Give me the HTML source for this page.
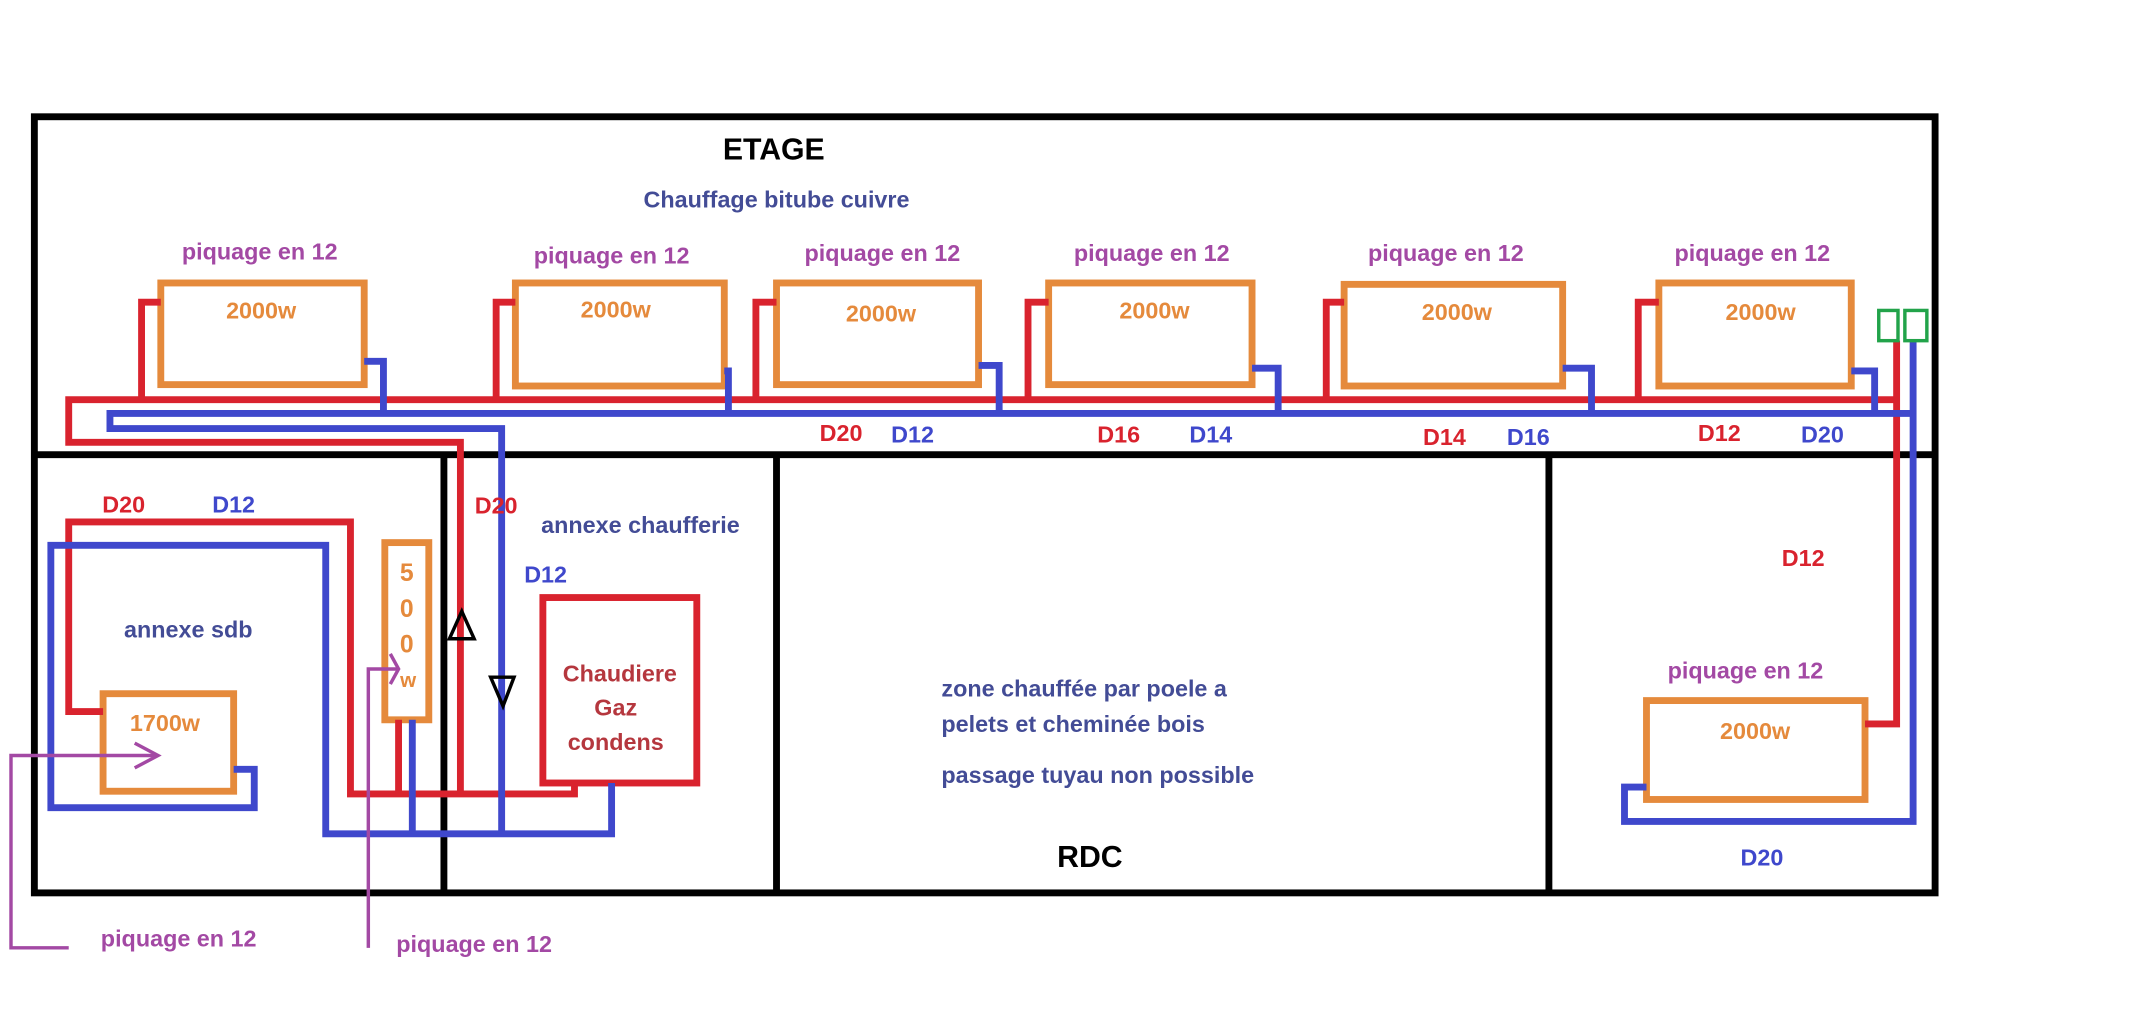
<!DOCTYPE html>
<html><head><meta charset="utf-8"><style>
html,body{margin:0;padding:0;background:#fff;}
svg{display:block;}
text{font-family:"Liberation Sans",sans-serif;font-weight:bold;font-size:17px;text-anchor:middle;}
.p{fill:#a349a4;}.o{fill:#e58a3c;}.r{fill:#d9232e;}.b{fill:#3f48cc;}.n{fill:#434c96;}.dr{fill:#b5373e;}
</style></head><body>
<svg width="2155" height="1033" viewBox="0 0 1568 752" preserveAspectRatio="none" xmlns="http://www.w3.org/2000/svg">
<rect width="1568" height="752" fill="#fff"/>
<g fill="none" stroke="#000" stroke-width="5">
<rect x="25" y="85" width="1383" height="565"/>
<line x1="25" y1="331" x2="1408" y2="331"/>
<line x1="323" y1="331" x2="323" y2="650"/>
<line x1="565" y1="331" x2="565" y2="650"/>
<line x1="1127" y1="331" x2="1127" y2="650"/>
</g>
<g fill="none" stroke="#e58a3c" stroke-width="5">
<rect x="117" y="206" width="148" height="74"/>
<rect x="375" y="206" width="152" height="75"/>
<rect x="565" y="206" width="147" height="74"/>
<rect x="763" y="206" width="148" height="74"/>
<rect x="978" y="207" width="159" height="74"/>
<rect x="1207" y="206" width="140" height="75"/>
<rect x="1198" y="510" width="159" height="72"/>
<rect x="75" y="505" width="95" height="71"/>
<rect x="280" y="395" width="32" height="129"/>
</g>
<g fill="none" stroke="#d9232e" stroke-width="5">
<polyline points="1380,291 50,291 50,322 335,322 335,578"/>
<polyline points="103,291 103,220 117,220"/>
<polyline points="361,291 361,220 375,220"/>
<polyline points="550,291 550,220 565,220"/>
<polyline points="748,291 748,220 763,220"/>
<polyline points="965,291 965,220 978,220"/>
<polyline points="1192,291 1192,220 1207,220"/>
<polyline points="1380,248 1380,527 1357,527"/>
<polyline points="75,518 50,518 50,380 255,380 255,578 418,578 418,570"/>
<line x1="290" y1="524" x2="290" y2="578"/>
<rect x="395" y="435" width="112" height="135"/>
</g>
<g fill="none" stroke="#3f48cc" stroke-width="5">
<polyline points="1392,301 80,301 80,312 365,312 365,607"/>
<polyline points="265,263 279,263 279,301"/>
<polyline points="527,270 530,270 530,301"/>
<polyline points="712,266 727,266 727,301"/>
<polyline points="911,268 930,268 930,301"/>
<polyline points="1137,268 1158,268 1158,301"/>
<polyline points="1347,270 1364,270 1364,301"/>
<polyline points="1392,248 1392,598 1182,598 1182,573 1198,573"/>
<polyline points="170,560 185,560 185,588 37,588 37,397 237,397 237,607 445,607 445,570"/>
<line x1="300" y1="524" x2="300" y2="607"/>
</g>
<g fill="none" stroke="#22a34a" stroke-width="2.5">
<rect x="1367" y="226" width="14" height="22"/>
<rect x="1386" y="226" width="16" height="22"/>
</g>
<g fill="none" stroke="#000" stroke-width="2.5">
<polygon points="336,445 327,465 345,465"/>
<polygon points="357,493 374,493 366,514"/>
</g>
<g fill="none" stroke="#a349a4" stroke-width="2.5">
<polyline points="50,690 8,690 8,550 115,550"/>
<polyline points="98,541 115,550 98,559"/>
<polyline points="268,690 268,487 290,487"/>
<polyline points="284,476 290,487 284,498"/>
</g>
<text x="563" y="116" style="font-size:22px;fill:#000">ETAGE</text>
<text x="565" y="151" class="n">Chauffage bitube cuivre</text>
<text x="189" y="189" class="p">piquage en 12</text>
<text x="445" y="192" class="p">piquage en 12</text>
<text x="642" y="190" class="p">piquage en 12</text>
<text x="838" y="190" class="p">piquage en 12</text>
<text x="1052" y="190" class="p">piquage en 12</text>
<text x="1275" y="190" class="p">piquage en 12</text>
<text x="1270" y="494" class="p">piquage en 12</text>
<text x="130" y="689" class="p">piquage en 12</text>
<text x="345" y="693" class="p">piquage en 12</text>
<text x="190" y="232" class="o">2000w</text>
<text x="448" y="231" class="o">2000w</text>
<text x="641" y="234" class="o">2000w</text>
<text x="840" y="232" class="o">2000w</text>
<text x="1060" y="233" class="o">2000w</text>
<text x="1281" y="233" class="o">2000w</text>
<text x="1277" y="538" class="o">2000w</text>
<text x="120" y="532" class="o">1700w</text>
<text x="296" y="423" class="o" style="font-size:18px">5</text>
<text x="296" y="449" class="o" style="font-size:18px">0</text>
<text x="296" y="475" class="o" style="font-size:18px">0</text>
<text x="297" y="500" class="o" style="font-size:15px">w</text>
<text x="612" y="321" class="r">D20</text>
<text x="664" y="322" class="b">D12</text>
<text x="814" y="322" class="r">D16</text>
<text x="881" y="322" class="b">D14</text>
<text x="1051" y="324" class="r">D14</text>
<text x="1112" y="324" class="b">D16</text>
<text x="1251" y="321" class="r">D12</text>
<text x="1326" y="322" class="b">D20</text>
<text x="1312" y="412" class="r">D12</text>
<text x="1282" y="630" class="b">D20</text>
<text x="90" y="373" class="r">D20</text>
<text x="170" y="373" class="b">D12</text>
<text x="361" y="374" class="r">D20</text>
<text x="397" y="424" class="b">D12</text>
<text x="466" y="388" class="n">annexe chaufferie</text>
<text x="137" y="464" class="n">annexe sdb</text>
<text x="451" y="496" class="dr">Chaudiere</text>
<text x="448" y="521" class="dr">Gaz</text>
<text x="448" y="546" class="dr">condens</text>
<text x="685" y="507" class="n" style="text-anchor:start">zone chauffée par poele a</text>
<text x="685" y="533" class="n" style="text-anchor:start">pelets et cheminée bois</text>
<text x="685" y="570" class="n" style="text-anchor:start">passage tuyau non possible</text>
<text x="793" y="631" style="font-size:22px;fill:#000">RDC</text>
</svg>
</body></html>
